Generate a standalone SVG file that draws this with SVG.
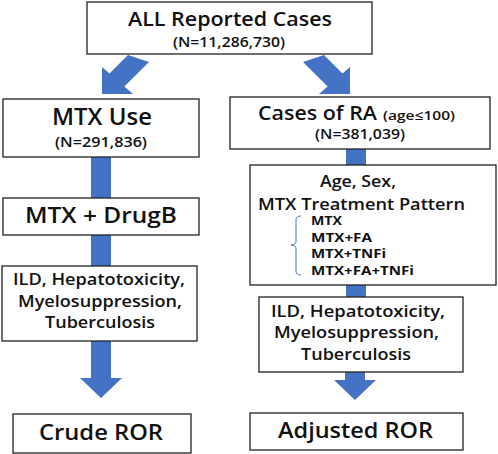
<svg xmlns="http://www.w3.org/2000/svg" width="498" height="454" viewBox="0 0 498 454">
<style>
.box{fill:#fff;stroke:#222;stroke-width:1.3}
.arr{fill:#4472C4}
text{font-family:"Open Sans","Noto Sans CJK JP",sans-serif;font-weight:600;fill:#111;text-anchor:middle}
.big{font-size:21px}
.mid{font-size:17px}
.sm{font-size:14px}
.st{text-anchor:start}
.lst{font-size:13px;font-weight:700;text-anchor:start}
</style>
<rect width="498" height="454" fill="#fff"/>
<g id="connectors">
<polygon class="arr" points="128,55 149,62 124.4,86.6 133,94 102,94 102,67 109.5,73.5"/>
<polygon class="arr" points="324,55 303,62 327.6,86.6 319,94 350,94 350,67 342.5,73.5"/>
<rect class="arr" x="91" y="157" width="20" height="41"/>
<rect class="arr" x="91" y="235" width="20" height="31"/>
<polygon class="arr" points="91,341 111,341 111,378 122,378 101,398 80,378 91,378"/>
<rect class="arr" x="346" y="149" width="20" height="16"/>
<rect class="arr" x="346" y="285" width="20" height="12"/>
<polygon class="arr" points="345,372 365,372 365,380 376,380 355,400 334,380 345,380"/>
</g>
<g id="all">
<rect class="box" x="87" y="2" width="285" height="52"/>
<text x="230" y="26" style="font-size:20px" textLength="204" lengthAdjust="spacingAndGlyphs">ALL Reported Cases</text>
<text class="sm" x="229" y="47" textLength="112" lengthAdjust="spacingAndGlyphs">(N=11,286,730)</text>
</g>
<g id="mtxuse">
<rect class="box" x="3" y="99" width="196" height="58"/>
<text x="102" y="125" style="font-size:23px" textLength="100" lengthAdjust="spacingAndGlyphs">MTX Use</text>
<text class="sm" x="101" y="147" textLength="92" lengthAdjust="spacingAndGlyphs">(N=291,836)</text>
</g>
<g id="ra">
<rect class="box" x="230" y="97" width="260" height="52"/>
<text class="st" x="258" y="120" style="font-size:20px" textLength="119" lengthAdjust="spacingAndGlyphs">Cases of RA</text>
<text class="st" x="383" y="120" style="font-size:13px" textLength="72" lengthAdjust="spacingAndGlyphs">(age≤100)</text>
<text class="sm" x="360" y="139" textLength="90" lengthAdjust="spacingAndGlyphs">(N=381,039)</text>
</g>
<g id="drugb">
<rect class="box" x="3" y="198" width="196" height="37"/>
<text class="big" x="101" y="223" textLength="152" lengthAdjust="spacingAndGlyphs">MTX + DrugB</text>
</g>
<g id="adj-factors">
<rect class="box" x="250" y="165" width="246" height="120"/>
<text class="mid" x="358" y="187" textLength="76" lengthAdjust="spacingAndGlyphs">Age, Sex,</text>
<text class="mid" x="361.5" y="210" textLength="207" lengthAdjust="spacingAndGlyphs">MTX Treatment Pattern</text>
<path d="M301,216 Q296,216 296,220 L296,241 Q296,245 291,245 Q296,245 296,249 L296,271 Q296,275 301,275" fill="none" stroke="#4472C4" stroke-width="1"/>
<text class="lst" x="311" y="225" textLength="31" lengthAdjust="spacingAndGlyphs">MTX</text>
<text class="lst" x="311" y="242" textLength="61" lengthAdjust="spacingAndGlyphs">MTX+FA</text>
<text class="lst" x="311" y="258" textLength="75" lengthAdjust="spacingAndGlyphs">MTX+TNFi</text>
<text class="lst" x="311" y="275" textLength="103" lengthAdjust="spacingAndGlyphs">MTX+FA+TNFi</text>
</g>
<g id="ae-left">
<rect class="box" x="2" y="266" width="195" height="75"/>
<text class="mid" x="99" y="285" textLength="172" lengthAdjust="spacingAndGlyphs">ILD, Hepatotoxicity,</text>
<text class="mid" x="100" y="307" textLength="164" lengthAdjust="spacingAndGlyphs">Myelosuppression,</text>
<text class="mid" x="100" y="328" textLength="110" lengthAdjust="spacingAndGlyphs">Tuberculosis</text>
</g>
<g id="ae-right">
<rect class="box" x="259" y="297" width="204" height="75"/>
<text class="mid" x="358" y="317" textLength="174" lengthAdjust="spacingAndGlyphs">ILD, Hepatotoxicity,</text>
<text class="mid" x="356.5" y="338" textLength="165" lengthAdjust="spacingAndGlyphs">Myelosuppression,</text>
<text class="mid" x="356" y="360" textLength="110" lengthAdjust="spacingAndGlyphs">Tuberculosis</text>
</g>
<g id="crude">
<rect class="box" x="13" y="414" width="178" height="39"/>
<text x="101" y="440" style="font-size:22px" textLength="124" lengthAdjust="spacingAndGlyphs">Crude ROR</text>
</g>
<g id="adjusted">
<rect class="box" x="250" y="413" width="213" height="37"/>
<text x="355.5" y="438" style="font-size:22px" textLength="155" lengthAdjust="spacingAndGlyphs">Adjusted ROR</text>
</g>
</svg>
